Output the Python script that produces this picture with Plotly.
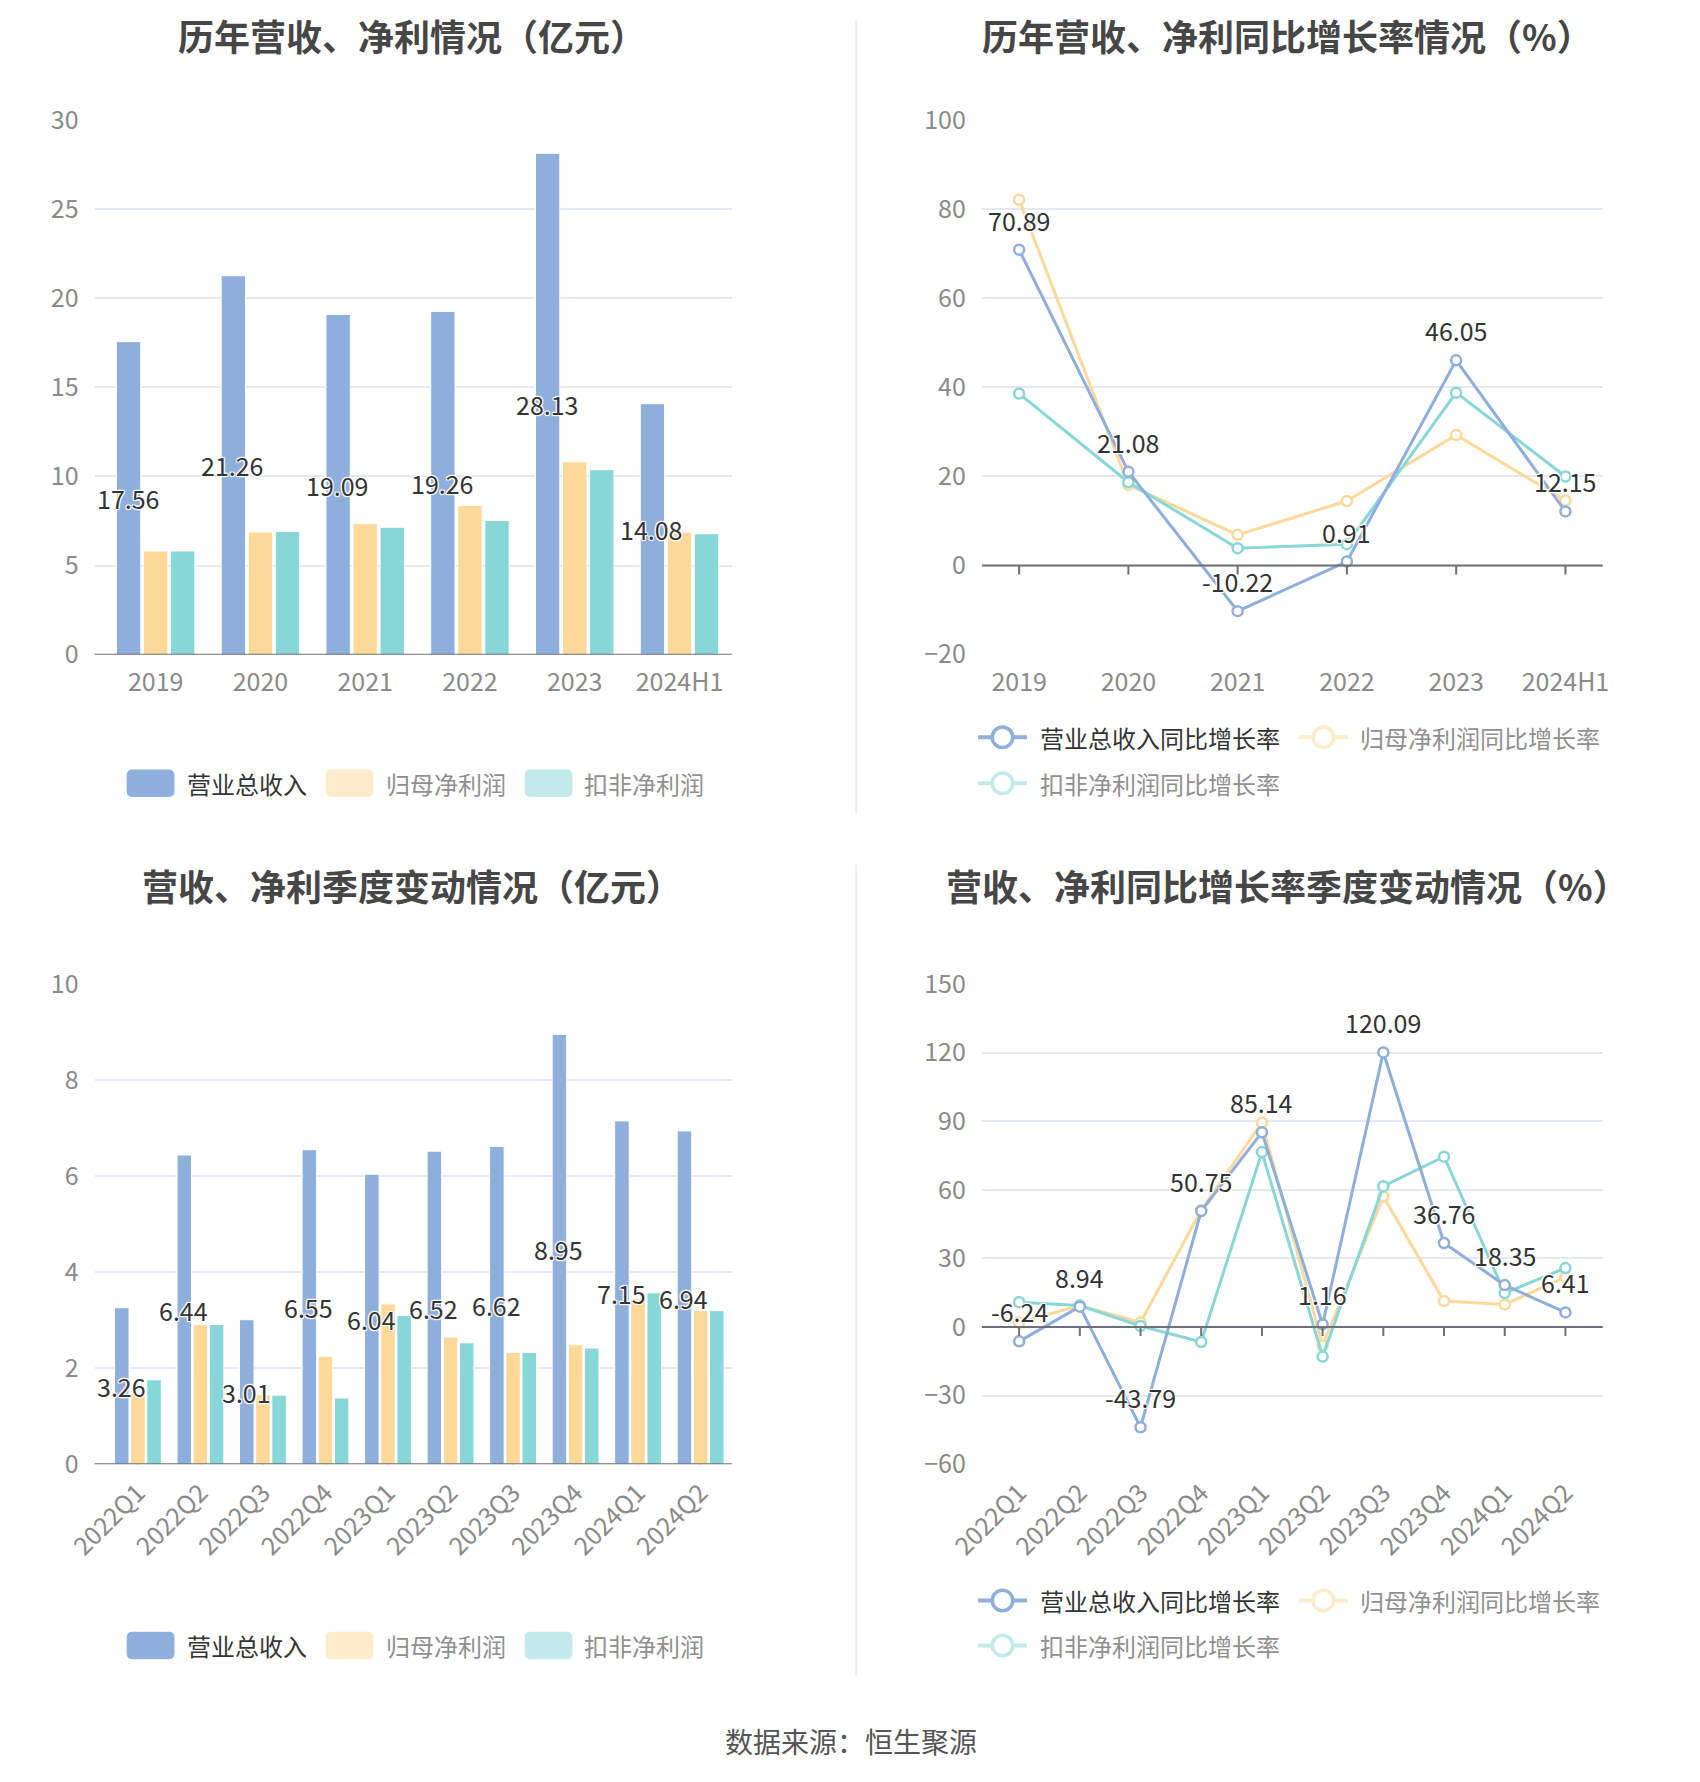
import plotly.graph_objects as go

W, H = 1700, 1782
FONT = "Noto Sans CJK SC, Noto Sans, sans-serif"

# ---------------- data ----------------
years = ["2019", "2020", "2021", "2022", "2023", "2024H1"]
rev_annual = [17.56, 21.26, 19.09, 19.26, 28.13, 14.08]
np_annual = [5.82, 6.88, 7.35, 8.38, 10.82, 6.88]
npd_annual = [5.82, 6.91, 7.15, 7.53, 10.38, 6.79]

rev_yoy = [70.89, 21.08, -10.22, 0.91, 46.05, 12.15]
np_yoy = [82.1, 18.1, 6.9, 14.5, 29.3, 14.6]
npd_yoy = [38.6, 18.7, 3.9, 4.8, 38.8, 20.0]

quarters = ["2022Q1", "2022Q2", "2022Q3", "2022Q4", "2023Q1",
            "2023Q2", "2023Q3", "2023Q4", "2024Q1", "2024Q2"]
rev_q = [3.26, 6.44, 3.01, 6.55, 6.04, 6.52, 6.62, 8.95, 7.15, 6.94]
np_q = [1.47, 2.91, 1.45, 2.25, 3.34, 2.65, 2.33, 2.49, 3.45, 3.20]
npd_q = [1.76, 2.91, 1.44, 1.38, 3.10, 2.53, 2.33, 2.42, 3.57, 3.20]

rev_q_yoy = [-6.24, 8.94, -43.79, 50.75, 85.14, 1.16, 120.09, 36.76, 18.35, 6.41]
np_q_yoy = [2.0, 9.4, 2.0, 51.2, 89.4, -8.0, 57.1, 11.4, 9.9, 21.9]
npd_q_yoy = [10.9, 9.4, 0.5, -6.5, 76.5, -12.9, 61.6, 74.5, 14.9, 25.8]

bar_names = ["营业总收入", "归母净利润", "扣非净利润"]
line_names = ["营业总收入同比增长率", "归母净利润同比增长率", "扣非净利润同比增长率"]
titles = ["历年营收、净利情况（亿元）", "历年营收、净利同比增长率情况（%）",
          "营收、净利季度变动情况（亿元）", "营收、净利同比增长率季度变动情况（%）"]
source_text = "数据来源：恒生聚源"

# ---------------- style ----------------
C_BLUE = "#8eaedb"
C_ORANGE = "#fdd899"
C_TEAL = "#87d6d8"
C_BLUE_L = "#8eaedb"
C_ORANGE_L = "#feebcc"
C_TEAL_L = "#c3eaeb"
GRID = "#e3e8f3"
AXIS = "#6e7079"
TICK_FONT = dict(family=FONT, size=25, color="#8a8a8a")
LABEL_SHADOW = "1px 1px 1px #fff, -1px -1px 1px #fff, 1px -1px 1px #fff, -1px 1px 1px #fff, 0 0 2px #fff"

BARGAP = 0.225
BARGROUPGAP = 0.1


def xd(a, b):
    return [a / W, b / W]


def yd(top, bottom):
    return [1 - bottom / H, 1 - top / H]


def px(x):
    return x / W


def py(y):
    return 1 - y / H


LX = (60.0, 713.5)
RX = (969.8, 1606.4)
TY = (102.0, 647.8)
BY = (983.9, 1474.1)

fig = go.Figure()

# ---------- bar charts ----------
for (cats, r, n1, n2, xa, ya) in [
    (years, rev_annual, np_annual, npd_annual, "x", "y"),
    (quarters, rev_q, np_q, npd_q, "x3", "y3"),
]:
    for vals, col, nm in zip([r, n1, n2], [C_BLUE, C_ORANGE, C_TEAL], bar_names):
        fig.add_trace(go.Bar(
            x=cats, y=vals, name=nm, marker=dict(color=col, line=dict(color="#ffffff", width=1)),
            xaxis=xa, yaxis=ya, showlegend=False, hoverinfo="x+y+name"))

# ---------- line charts ----------
for (cats, r, n1, n2, xa, ya) in [
    (years, rev_yoy, np_yoy, npd_yoy, "x2", "y2"),
    (quarters, rev_q_yoy, np_q_yoy, npd_q_yoy, "x4", "y4"),
]:
    for vals, col, nm in [(n1, C_ORANGE, line_names[1]), (n2, C_TEAL, line_names[2]), (r, C_BLUE, line_names[0])]:
        fig.add_trace(go.Scatter(
            x=cats, y=vals, name=nm, mode="lines+markers",
            line=dict(color=col, width=3),
            marker=dict(symbol="circle", size=10, color="#ffffff", line=dict(color=col, width=2.5)),
            xaxis=xa, yaxis=ya, showlegend=False))

annotations = []
shapes = []

# bar value labels (centre of revenue bar)
for cats, vals, xa, ya, xr in [(years, rev_annual, "x", "y", LX), (quarters, rev_q, "x3", "y3", LX)]:
    cw = (xr[1] - xr[0]) / len(cats)
    slot = cw * (1 - BARGAP) / 3
    for i, v in enumerate(vals):
        annotations.append(dict(
            x=i, y=v / 2, xref=xa, yref=ya, text=f"{v:.2f}", showarrow=False,
            xshift=-slot, font=dict(family=FONT, size=25, color="#333333", shadow=LABEL_SHADOW)))

# line value labels (above points)
for cats, vals, xa, ya in [(years, rev_yoy, "x2", "y2"), (quarters, rev_q_yoy, "x4", "y4")]:
    for i, v in enumerate(vals):
        annotations.append(dict(
            x=i, y=v, xref=xa, yref=ya, text=f"{v:.2f}", showarrow=False,
            yshift=30, font=dict(family=FONT, size=25, color="#333333", shadow=LABEL_SHADOW)))

# axis lines at zero + tick marks
for cats, xa, ya in [(years, "x", "y"), (years, "x2", "y2"), (quarters, "x3", "y3"), (quarters, "x4", "y4")]:
    shapes.append(dict(type="line", xref=f"{xa} domain", yref=ya, x0=0, x1=1, y0=0, y1=0,
                       line=dict(color=AXIS, width=2), layer="above"))
    for i in range(len(cats)):
        shapes.append(dict(type="line", xref=xa, yref=ya, x0=i, x1=i, ysizemode="pixel",
                           yanchor=0, y0=0, y1=-9, line=dict(color=AXIS, width=2), layer="above"))

# titles
for t, cx, cy in zip(titles, [386, 1283, 386, 1283], [15, 15, 883, 883]):
    annotations.append(dict(x=px(cx), y=py(cy), xref="paper", yref="paper", text=f"<b>{t}</b>",
                            showarrow=False, xanchor="center", yanchor="middle",
                            font=dict(family=FONT, size=36, color="#464646")))

# source
annotations.append(dict(x=px(836), y=py(1756), xref="paper", yref="paper", text=source_text,
                        showarrow=False, xanchor="center", yanchor="middle",
                        font=dict(family=FONT, size=28, color="#555555")))


def rrect(x0, y0, x1, y1, r, color):
    rx, ry = r / W, r / H
    X0, X1 = px(x0), px(x1)
    Y0, Y1 = py(y0), py(y1)
    path = (f"M {X0+rx},{Y0} L {X1-rx},{Y0} Q {X1},{Y0} {X1},{Y0-ry} "
            f"L {X1},{Y1+ry} Q {X1},{Y1} {X1-rx},{Y1} L {X0+rx},{Y1} Q {X0},{Y1} {X0},{Y1+ry} "
            f"L {X0},{Y0-ry} Q {X0},{Y0} {X0+rx},{Y0} Z")
    return dict(type="path", xref="paper", yref="paper", path=path, fillcolor=color,
                line=dict(width=0), layer="above")


def legend_text(x, y, text, color):
    return dict(x=px(x), y=py(y), xref="paper", yref="paper", text=text, showarrow=False,
                xanchor="left", yanchor="middle", font=dict(family=FONT, size=24, color=color))


# bar legends
for ly in [779, 1659]:
    for sx, tx, col, nm, tc in [(93, 153, C_BLUE_L, bar_names[0], "#333333"),
                                (297, 357, C_ORANGE_L, bar_names[1], "#8f8f8f"),
                                (501, 560, C_TEAL_L, bar_names[2], "#8f8f8f")]:
        shapes.append(rrect(sx, ly - 14, sx + 49, ly + 14, 6, col))
        annotations.append(legend_text(tx, ly, nm, tc))

# line legends
for r1, r2 in [(732, 779), (1613, 1659)]:
    for sx, ly, tx, col, nm, tc in [(966, r1, 1027, C_BLUE_L, line_names[0], "#333333"),
                                    (1295, r1, 1356, C_ORANGE_L, line_names[1], "#8f8f8f"),
                                    (966, r2, 1027, C_TEAL_L, line_names[2], "#8f8f8f")]:
        shapes.append(dict(type="line", xref="paper", yref="paper", x0=px(sx), x1=px(sx + 50),
                           y0=py(ly), y1=py(ly), line=dict(color=col, width=4), layer="above"))
        cxp, rr = sx + 25, 10.5
        shapes.append(dict(type="circle", xref="paper", yref="paper", x0=px(cxp - rr), x1=px(cxp + rr),
                           y0=py(ly + rr), y1=py(ly - rr), fillcolor="#ffffff",
                           line=dict(color=col, width=3.5), layer="above"))
        annotations.append(legend_text(tx, ly, nm, tc))

# separators
for y0, y1 in [(0, 810), (862, 1691)]:
    shapes.append(dict(type="line", xref="paper", yref="paper", x0=px(841), x1=px(841),
                       y0=py(y0), y1=py(y1), line=dict(color="#eeeeee", width=2), layer="below"))


def xaxis(dom, anchor, angle=0, standoff=10):
    return dict(domain=dom, anchor=anchor, type="category", showgrid=False, showline=False,
                zeroline=False, ticks="", tickangle=angle, tickfont=TICK_FONT,
                ticklabelstandoff=standoff, fixedrange=True)


def yaxis(dom, anchor, rng, dtick):
    return dict(domain=dom, anchor=anchor, range=rng, dtick=dtick, tick0=0, showgrid=True,
                gridcolor=GRID, gridwidth=1.5, zeroline=False, showline=False, ticks="",
                tickfont=TICK_FONT, ticklabelstandoff=15, fixedrange=True)


fig.update_layout(
    width=W, height=H, margin=dict(l=0, r=0, t=0, b=0),
    paper_bgcolor="#ffffff", plot_bgcolor="#ffffff",
    barmode="group", bargap=BARGAP, bargroupgap=BARGROUPGAP,
    showlegend=False,
    xaxis=xaxis(xd(*LX), "y", standoff=10),
    yaxis=yaxis(yd(*TY), "x", [0, 30], 5),
    xaxis2=xaxis(xd(*RX), "y2", standoff=10),
    yaxis2=yaxis(yd(*TY), "x2", [-20, 100], 20),
    xaxis3=xaxis(xd(*LX), "y3", angle=-45, standoff=8),
    yaxis3=yaxis(yd(*BY), "x3", [0, 10], 2),
    xaxis4=xaxis(xd(*RX), "y4", angle=-45, standoff=8),
    yaxis4=yaxis(yd(*BY), "x4", [-60, 150], 30),
    annotations=annotations, shapes=shapes,
    font=dict(family=FONT),
)

fig.write_html("out.html")
